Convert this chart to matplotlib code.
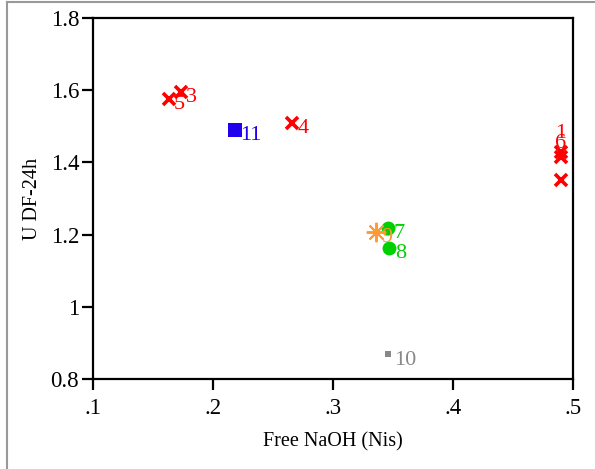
import matplotlib
matplotlib.use("Agg")
import matplotlib.pyplot as plt
from matplotlib.lines import Line2D

plt.rcParams['font.family'] = ['Liberation Serif', 'DejaVu Serif']

# Sample results: free NaOH vs. U DF-24h
ids = ["1", "2", "3", "4", "5", "6", "7", "8", "9", "10", "11"]
naoh = [0.490, 0.490, 0.173, 0.266, 0.163, 0.490, 0.346, 0.347, 0.336, 0.346, 0.218]
udf = [1.430, 1.350, 1.596, 1.508, 1.576, 1.414, 1.218, 1.163, 1.208, 0.868, 1.490]
groups = ["x", "x", "x", "x", "x", "x", "g", "g", "o", "s", "b"]

styles = {
    "x": dict(marker="x", color="#ff0000", ms=9, mew=2.6),
    "g": dict(marker="o", color="#00d000", ms=10, mew=0),
    "o": dict(marker=(8, 2, 0), color="#ff9933", ms=14, mew=1.4),
    "s": dict(marker="s", color="#888888", ms=4.5, mew=0),
    "b": dict(marker="s", color="#2200ee", ms=9.5, mew=0),
}

# label offsets (points) and alignment for each marker
offsets = {"1": ((0, 13), "center"), "6": ((0, 10), "center"), "2": None}
default_off = ((4, -4), "left")

fig = plt.figure(figsize=(5.95, 4.69), dpi=100)
ax = fig.add_axes([0.1563, 0.1919, 0.8067, 0.7697])

for i, x, y, g in zip(ids, naoh, udf, groups):
    st = styles[g]
    ax.plot([x], [y], linestyle="none", marker=st["marker"], color=st["color"],
            markersize=st["ms"], markeredgewidth=st["mew"], zorder=3)
    off = offsets.get(i, default_off)
    if off is None:
        continue
    ax.annotate(i, (x, y), xytext=off[0], textcoords="offset points",
                color=st["color"], fontsize=16, ha=off[1], va="center", zorder=4)

ax.set_xlim(0.1, 0.5)
ax.set_ylim(0.8, 1.8)
xticks = [0.1, 0.2, 0.3, 0.4, 0.5]
xticklabels = [".1", ".2", ".3", ".4", ".5"]
yticks = [0.8, 1.0, 1.2, 1.4, 1.6, 1.8]
yticklabels = ["0.8", "1", "1.2", "1.4", "1.6", "1.8"]
ax.set_xticks(xticks, xticklabels)
ax.set_yticks(yticks, yticklabels)
ax.tick_params(direction="out", length=8, width=1.6, labelsize=16.5, pad=2,
               colors="black")
ax.tick_params(axis="x", pad=6)
for s in ax.spines.values():
    s.set_linewidth(1.6)
    s.set_color("black")

ax.set_xlabel("Free NaOH (Nis)", fontsize=14.5, labelpad=9)
ax.set_ylabel("U DF-24h", fontsize=14.5, labelpad=6)

# outer panel frame
fig.add_artist(Line2D([7 / 595, 7 / 595], [0, 1 - 2 / 469], transform=fig.transFigure,
                      color="#999999", lw=1.5))
fig.add_artist(Line2D([7 / 595, 1], [1 - 2 / 469, 1 - 2 / 469], transform=fig.transFigure,
                      color="#999999", lw=1.5))

fig.savefig("out.png", dpi=100)
